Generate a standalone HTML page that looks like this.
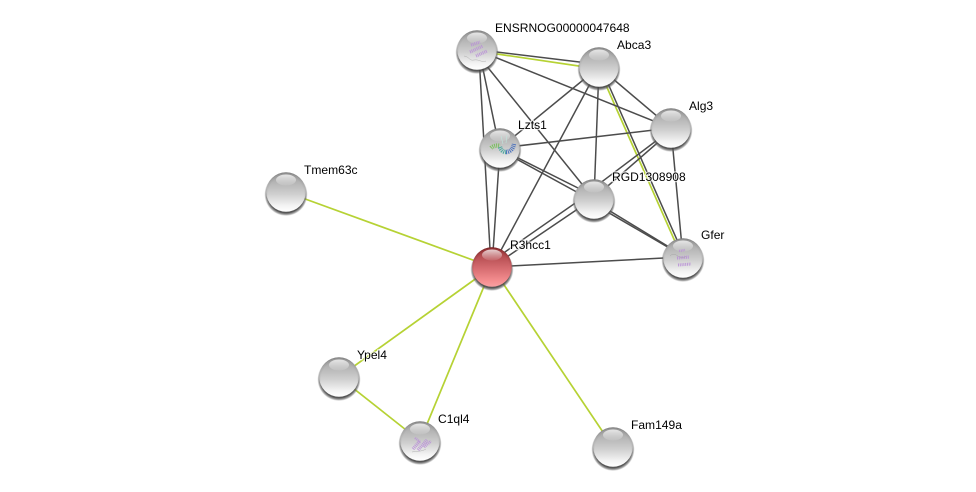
<!DOCTYPE html>
<html>
<head>
<meta charset="utf-8">
<style>
html,body{margin:0;padding:0;background:#fff;width:976px;height:492px;overflow:hidden}
svg{display:block}
text{font-family:"Liberation Sans",sans-serif;font-size:12.05px;fill:#000;paint-order:stroke;stroke:#fff;stroke-width:2.4px;stroke-opacity:.7}
</style>
</head>
<body>
<svg width="976" height="492" viewBox="0 0 976 492" xmlns="http://www.w3.org/2000/svg">
<defs>
<linearGradient id="g" x1="0" y1="0" x2="0" y2="1">
<stop offset="0" stop-color="#9a9a9a"/><stop offset=".25" stop-color="#b4b4b4"/><stop offset=".55" stop-color="#cfcfcf"/><stop offset=".85" stop-color="#f4f4f4"/><stop offset="1" stop-color="#fff"/>
</linearGradient>
<linearGradient id="r" x1="0" y1="0" x2="0" y2="1">
<stop offset="0" stop-color="#9a3438"/><stop offset=".25" stop-color="#b85054"/><stop offset=".55" stop-color="#d86e72"/><stop offset=".85" stop-color="#f58e90"/><stop offset="1" stop-color="#f9a0a2"/>
</linearGradient>
<linearGradient id="h" x1="0" y1="0" x2="0" y2="1">
<stop offset="0" stop-color="#fff" stop-opacity=".75"/><stop offset="1" stop-color="#fff" stop-opacity=".08"/>
</linearGradient>
<radialGradient id="v" cx=".5" cy=".55" r=".55">
<stop offset=".82" stop-color="#000" stop-opacity="0"/><stop offset=".94" stop-color="#000" stop-opacity=".08"/><stop offset="1" stop-color="#000" stop-opacity=".22"/>
</radialGradient>
<radialGradient id="vr" cx=".5" cy=".55" r=".55">
<stop offset=".82" stop-color="#400" stop-opacity="0"/><stop offset=".94" stop-color="#400" stop-opacity=".15"/><stop offset="1" stop-color="#300" stop-opacity=".5"/>
</radialGradient>
<radialGradient id="s" cx=".5" cy=".5" r=".5">
<stop offset=".86" stop-color="#444" stop-opacity=".9"/><stop offset=".94" stop-color="#666" stop-opacity=".55"/><stop offset="1" stop-color="#888" stop-opacity="0"/>
</radialGradient>
<g id="n">
<circle cx="0" cy="2.4" r="21.6" fill="url(#s)"/>
<circle r="19.8" fill="url(#g)"/>
<circle r="19.8" fill="url(#v)"/>
<ellipse cx="0" cy="-12" rx="10" ry="5.5" fill="url(#h)"/>
</g>
<g id="nr">
<circle cx="0" cy="2.4" r="21.6" fill="url(#s)"/>
<circle r="19.8" fill="url(#r)"/>
<circle r="19.8" fill="url(#vr)"/>
<ellipse cx="0" cy="-12" rx="10" ry="5.5" fill="url(#h)"/>
</g>
</defs>

<!-- green edges -->
<g stroke="#b6d234" stroke-width="1.7" fill="none">
<line x1="286" y1="192" x2="492" y2="267"/>
<line x1="492" y1="267" x2="339" y2="377"/>
<line x1="339" y1="377" x2="420" y2="441"/>
<line x1="492" y1="267" x2="420" y2="441"/>
<line x1="492" y1="267" x2="613" y2="447"/>
<line x1="477" y1="51" x2="599" y2="69"/>
<line x1="598" y1="67" x2="682.3" y2="258"/>
</g>
<!-- single dark edges -->
<g stroke="#4c4c4c" stroke-width="1.5" fill="none">
<line x1="477" y1="49.6" x2="599" y2="64.4"/>
<line x1="477" y1="50" x2="671" y2="128"/>
<line x1="477" y1="54" x2="594" y2="199"/>
<line x1="478.7" y1="50" x2="491" y2="267"/>
<line x1="479" y1="50" x2="499.5" y2="148"/>
<line x1="599" y1="67" x2="500" y2="148"/>
<line x1="599" y1="67" x2="492" y2="267"/>
<line x1="599" y1="67" x2="594" y2="199"/>
<line x1="599" y1="67" x2="671" y2="128"/>
<line x1="600.7" y1="67" x2="685" y2="258"/>
<line x1="500" y1="148" x2="671" y2="128"/>
<line x1="500" y1="148" x2="492" y2="267"/>
<line x1="671" y1="128" x2="683" y2="258"/>
<line x1="492" y1="267" x2="683" y2="257"/>
<!-- doubled edges -->
<line x1="671" y1="129.6" x2="594" y2="187.7"/>
<line x1="671" y1="131" x2="594" y2="198"/>
<line x1="500" y1="149" x2="594" y2="196"/>
<line x1="500" y1="150" x2="594" y2="201.5"/>
<line x1="594" y1="201.3" x2="683" y2="255.5"/>
<line x1="594" y1="204.2" x2="683" y2="256"/>
<line x1="594" y1="190" x2="492" y2="261"/>
<line x1="594" y1="198" x2="492" y2="267"/>
</g>

<!-- nodes -->
<use href="#n" x="477" y="50"/>
<use href="#n" x="599" y="67"/>
<use href="#n" x="671" y="128"/>
<use href="#n" x="500" y="148"/>
<use href="#n" x="594" y="199"/>
<use href="#n" x="683" y="258"/>
<use href="#nr" x="492" y="267"/>
<use href="#n" x="286" y="192"/>
<use href="#n" x="339" y="377"/>
<use href="#n" x="420" y="441"/>
<use href="#n" x="613" y="447"/>

<!-- protein structure textures -->
<g fill="none" stroke="#b98fd8" stroke-dasharray="1 .8" stroke-width="3.2" opacity=".85">
<path d="M471 45l9-3"/>
<path d="M470 52l13-6"/>
<path d="M476 56l11-5"/>
<path d="M413 449l7-8" stroke-width="3.4"/>
<path d="M418 450l9-10" stroke-width="3.4"/>
<path d="M424 447l7-6" stroke-width="3"/>
<path d="M415 438l5 4" stroke-width="2.4"/>
<path d="M677 258l12-1"/>
<path d="M679 251l6-1" stroke-width="2.4"/>
<path d="M678 265l13-1" stroke-width="3"/>
</g>
<g fill="none" stroke="#999" stroke-width=".5" opacity=".7">
<path d="M464 56c6 1 5 5 10 4s8 3 12 1M670 256c6-6 10 6 16 0M412 452c4-1 9 0 14-3"/>
</g>
<g fill="none" stroke-width="4.4" stroke-dasharray="1 .9">
<path d="M491 148c2-2 6-3 9-2" stroke="#7cc060"/>
<path d="M500 147c1 3 3 5 6 5" stroke="#4fa8a0"/>
<path d="M506 152c4 0 7-3 8-8" stroke="#4f74bc"/>
</g>
<path d="M501 136l2 8M507 135l-1 8" stroke="#bfe6dc" stroke-width=".6" fill="none"/>

<!-- labels -->
<text x="495" y="32">ENSRNOG00000047648</text>
<text x="617" y="49">Abca3</text>
<text x="689" y="110">Alg3</text>
<text x="518" y="129">Lzts1</text>
<text x="612" y="181">RGD1308908</text>
<text x="701" y="239">Gfer</text>
<text x="510" y="249">R3hcc1</text>
<text x="304" y="174">Tmem63c</text>
<text x="357" y="359">Ypel4</text>
<text x="438" y="423">C1ql4</text>
<text x="631" y="429">Fam149a</text>
</svg>
</body>
</html>
